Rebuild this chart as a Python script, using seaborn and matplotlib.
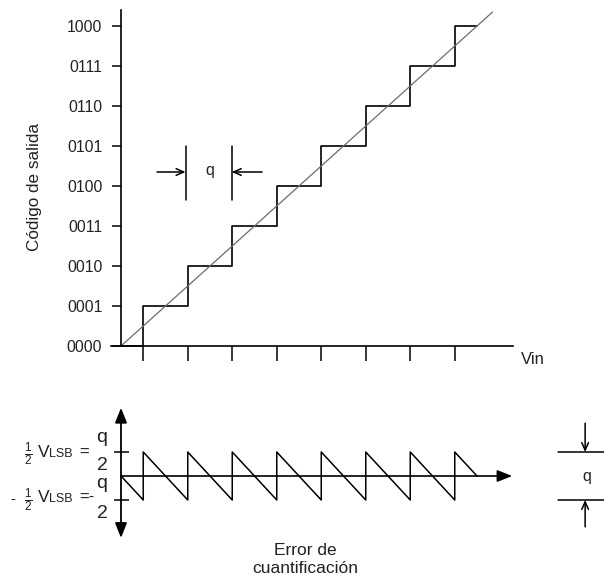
import matplotlib
matplotlib.use("Agg")
import matplotlib.pyplot as plt
import seaborn as sns
import numpy as np

# ---------------- data ----------------
code_labels = ["0000", "0001", "0010", "0011", "0100", "0101", "0110", "0111", "1000"]
code_values = [0, 1, 2, 3, 4, 5, 6, 7, 8]
# staircase transfer function (input in LSB units -> output code)
stair_vin = [0.0, 0.5, 1.5, 2.5, 3.5, 4.5, 5.5, 6.5, 7.5, 8.0]
stair_code = [0, 1, 2, 3, 4, 5, 6, 7, 8, 8]
# ideal (infinite resolution) transfer line
ideal_vin = [0.0, 8.35]
ideal_code = [0.0, 8.35]
# x tick positions (transition points)
vin_ticks = [0.5, 1.5, 2.5, 3.5, 4.5, 5.5, 6.5, 7.5]
# quantization error sawtooth (LSB units)
err_vin = [0.0, 0.5, 0.5, 1.5, 1.5, 2.5, 2.5, 3.5, 3.5, 4.5, 4.5,
           5.5, 5.5, 6.5, 6.5, 7.5, 7.5, 8.0]
err_val = [0.0, -0.5, 0.5, -0.5, 0.5, -0.5, 0.5, -0.5, 0.5, -0.5, 0.5,
           -0.5, 0.5, -0.5, 0.5, -0.5, 0.5, 0.0]
err_ticks = [-0.5, 0.5]

# ---------------- style ----------------
sns.set_theme(style="white")
plt.rcParams["font.family"] = ["Liberation Sans", "DejaVu Sans"]
plt.rcParams["mathtext.fontset"] = "custom"
plt.rcParams["mathtext.rm"] = "Liberation Sans"
plt.rcParams["mathtext.it"] = "Liberation Sans:italic"
TXT = "#222222"

W, H = 604, 580
fig = plt.figure(figsize=(W / 100, H / 100), dpi=100)
fig.patch.set_facecolor("white")


def fx(x):
    return x / W


def fy(y):
    return 1 - y / H


UX = 44.5   # px per LSB (x)
X0 = 121    # px of Vin = 0
XMIN, XMAX = -0.3, 9.2

# ---------------- top axes ----------------
UY = 40.0
Y0 = 346
YMIN, YMAX = -0.5, 8.65
left_px = X0 + XMIN * UX
ax = fig.add_axes([fx(left_px), (H - Y0 - (0 - YMIN) * UY) / H,
                   (XMAX - XMIN) * UX / W, (YMAX - YMIN) * UY / H])
ax.set_xlim(XMIN, XMAX)
ax.set_ylim(YMIN, YMAX)
ax.set_facecolor("none")

sns.lineplot(x=stair_vin, y=stair_code, drawstyle="steps-post", color="black",
             lw=1.2, estimator=None, ax=ax)
sns.lineplot(x=ideal_vin, y=ideal_code, color="#6a6a7a", lw=0.9,
             estimator=None, ax=ax)

for s in ["top", "right"]:
    ax.spines[s].set_visible(False)
ax.spines["left"].set_position(("data", 0))
ax.spines["bottom"].set_position(("data", 0))
ax.spines["left"].set_bounds(0, 8.4)
ax.spines["bottom"].set_bounds(-0.225, 8.81)
for s in ["left", "bottom"]:
    ax.spines[s].set_color("black")
    ax.spines[s].set_linewidth(1.2)

ax.set_yticks(code_values)
ax.set_yticklabels(code_labels)
ax.set_xticks(vin_ticks)
ax.set_xticklabels([])
ax.tick_params(axis="y", direction="out", length=6.5, width=1.1, pad=7,
               labelsize=11.3, labelcolor=TXT, color="black", left=True)
ax.tick_params(axis="x", direction="out", length=10.8, width=1.1,
               color="black", bottom=True)
ax.set_xlabel("")
ax.set_ylabel("")

# q width indicator (top)
for xv in [1.45, 2.49]:
    ax.plot([xv, xv], [3.65, 5.0], color="black", lw=1.1)
ax.annotate("", xy=(1.45, 4.35), xytext=(0.81, 4.35),
            arrowprops=dict(arrowstyle="->,head_length=0.45,head_width=0.2",
                            color="black", lw=1.1, shrinkA=0, shrinkB=0))
ax.annotate("", xy=(2.49, 4.35), xytext=(3.17, 4.35),
            arrowprops=dict(arrowstyle="->,head_length=0.45,head_width=0.2",
                            color="black", lw=1.1, shrinkA=0, shrinkB=0))
ax.text(2.0, 4.38, "q", ha="center", va="center", fontsize=11.5, color=TXT)

fig.text(fx(34), fy(186.5), "Código de salida", rotation=90, ha="center",
         va="center", fontsize=12.3, color=TXT)
fig.text(fx(521), fy(364), "Vin", ha="left", va="baseline", fontsize=12,
         color=TXT)

# ---------------- bottom axes ----------------
UE = 48.0
E0 = 476
EMIN, EMAX = -1.45, 1.5
bx = fig.add_axes([fx(left_px), (H - E0 - (0 - EMIN) * UE) / H,
                   (XMAX - XMIN) * UX / W, (EMAX - EMIN) * UE / H])
bx.set_xlim(XMIN, XMAX)
bx.set_ylim(EMIN, EMAX)
bx.set_facecolor("none")

sns.lineplot(x=err_vin, y=err_val, sort=False, estimator=None, color="black",
             lw=1.1, ax=bx)

for s in ["top", "right", "bottom"]:
    bx.spines[s].set_visible(False)
bx.spines["left"].set_position(("data", 0))
bx.spines["left"].set_color("none")
bx.set_xticks([])
bx.set_yticks(err_ticks)
bx.set_yticklabels([])
bx.tick_params(axis="y", direction="inout", length=10.8, width=1.1,
               color="black", left=True)
bx.set_xlabel("")
bx.set_ylabel("")

bx.annotate("", xy=(0, 1.42), xytext=(0, -1.29), annotation_clip=False,
            arrowprops=dict(arrowstyle="<|-|>,head_length=0.75,head_width=0.3",
                            color="black", lw=1.3, shrinkA=0, shrinkB=0))
bx.annotate("", xy=(8.79, 0), xytext=(0, 0), annotation_clip=False,
            arrowprops=dict(arrowstyle="-|>,head_length=0.75,head_width=0.3",
                            color="black", lw=1.2, shrinkA=0, shrinkB=0))

# q height indicator (right)
for yv in err_ticks:
    bx.plot([9.82, 10.9], [yv, yv], color="black", lw=1.1, clip_on=False)
bx.annotate("", xy=(10.43, 0.5), xytext=(10.43, 1.1), annotation_clip=False,
            arrowprops=dict(arrowstyle="->,head_length=0.45,head_width=0.2",
                            color="black", lw=1.1, shrinkA=0, shrinkB=0))
bx.annotate("", xy=(10.43, -0.5), xytext=(10.43, -1.06), annotation_clip=False,
            arrowprops=dict(arrowstyle="->,head_length=0.45,head_width=0.2",
                            color="black", lw=1.1, shrinkA=0, shrinkB=0))
bx.text(10.47, 0.0, "q", ha="center", va="center", fontsize=11.5, color=TXT,
        clip_on=False)

# left labels
for base, cy, qb, tb, eq in [(457, 454, 442, 470, "="), (502, 500, 488, 518, "=-")]:
    fig.text(fx(28.5), fy(cy), r"$\frac{1}{2}$", ha="center", va="center",
             fontsize=12, color=TXT)
    fig.text(fx(38), fy(base), "V", ha="left", va="baseline", fontsize=12.5,
             color=TXT)
    fig.text(fx(49.5), fy(base), "LSB", ha="left", va="baseline", fontsize=9,
             color=TXT)
    fig.text(fx(79), fy(base), eq, ha="left", va="baseline", fontsize=12,
             color=TXT)
    fig.text(fx(102), fy(qb), "q", ha="center", va="baseline", fontsize=14,
             color=TXT)
    fig.text(fx(102), fy(tb), "2", ha="center", va="baseline", fontsize=14,
             color=TXT)
fig.text(fx(13), fy(499), "-", ha="center", va="center", fontsize=11,
         color=TXT)

fig.text(fx(305), fy(555), "Error de", ha="center", va="baseline",
         fontsize=12.5, color=TXT)
fig.text(fx(305), fy(573), "cuantificación", ha="center", va="baseline",
         fontsize=12.5, color=TXT)

fig.savefig("out.png", dpi=100, facecolor="white")
